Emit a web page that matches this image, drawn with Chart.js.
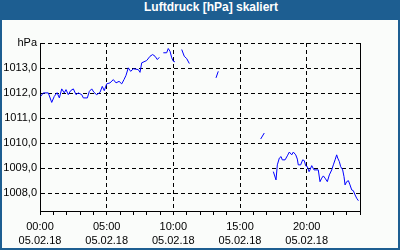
<!DOCTYPE html>
<html>
<head>
<meta charset="utf-8">
<script src="https://cdn.jsdelivr.net/npm/chart.js@4.4.0/dist/chart.umd.min.js"></script>
<style>
  body { margin: 0; background: #ffffff; }
  #frame { position: relative; width: 400px; height: 250px; background: #1d5e91; overflow: hidden; }
  #inner { position: absolute; left: 2px; top: 20px; width: 396px; height: 228px; background: #fafcfa; }
  #title {
    position: absolute; left: 0; top: 0; width: 400px; height: 20px; line-height: 20px;
    box-sizing: border-box; padding-left: 22px; text-align: center;
    color: #ffffff; font: bold 12px "Liberation Sans", Arial, sans-serif;
  }
  #chart { position: absolute; left: 0; top: 0; }
</style>
</head>
<body>
<div id="frame">
  <div id="inner"></div>
  <div id="title">Luftdruck [hPa] skaliert</div>
  <canvas id="chart" width="400" height="250"></canvas>
</div>
<script>
// hours since 05.02.18 00:00, null = no reading
const hours = [
  0.05, 0.25, 0.62, 0.88, 1.07, 1.28, 1.45, 1.63, 1.82, 1.95,
  2.12, 2.30, 2.50, 2.70, 2.87, 3.13, 3.25, 3.55, 3.70, 3.88,
  4.05, 4.25, 4.50, 4.67, 4.82, 5.00, 5.25, 5.50, 5.70, 5.93,
  6.13, 6.30, 6.45, 6.62, 6.80, 7.00, 7.37, 7.50, 7.63, 8.00,
  8.25, 8.45, 8.63, 8.80, 8.95, 9.10,
  9.25, 9.50, 9.62, 9.75, 9.88, 10.00, 10.12, 10.40,
  10.63, 10.82, 11.00, 11.20, 12.00,
  13.20, 13.37, 15.00,
  16.55, 16.82, 17.20,
  17.50, 17.70, 17.80, 17.95, 18.08, 18.17, 18.38, 18.55, 18.70, 18.88,
  19.00, 19.18, 19.30, 19.37, 19.55, 19.70, 19.82, 19.93, 20.05, 20.18,
  20.25, 20.38, 20.55, 20.87, 21.00, 21.13, 21.25, 21.38, 21.55, 21.70,
  21.88, 22.00, 22.13, 22.25, 22.33, 22.45, 22.55, 22.70, 22.80, 22.88,
  23.00, 23.13, 23.25, 23.38, 23.50, 23.63, 23.75, 23.88
];
const pressure = [
  1011.87, 1012.01, 1012.01, 1011.63, 1011.87, 1012.02, 1011.81, 1012.17, 1012.01, 1012.14,
  1011.94, 1012.10, 1012.17, 1011.94, 1012.01, 1011.94, 1011.81, 1011.81, 1012.07, 1012.17,
  1012.03, 1011.94, 1012.03, 1012.27, 1012.10, 1012.37, 1012.41, 1012.54, 1012.41, 1012.47,
  1012.37, 1012.54, 1012.71, 1013.01, 1012.87, 1012.97, 1012.94, 1012.83, 1013.21, 1013.30,
  1013.47, 1013.54, 1013.47, 1013.34, 1013.43, null,
  1013.61, 1013.61, 1013.78, 1013.67, 1013.41, 1013.27, 1013.25, null,
  1013.74, 1013.47, 1013.38, 1013.18, null,
  1012.61, 1012.87, null,
  1010.17, 1010.41, null,
  1008.87, 1008.54, 1009.14, 1009.41, 1009.47, 1009.34, 1009.34, 1009.50, 1009.65, 1009.54,
  1009.65, 1009.54, 1009.37, 1009.14, 1009.14, 1009.34, 1009.31, 1009.10, 1009.07, 1008.87,
  1008.94, 1009.11, 1008.94, 1008.94, 1008.47, 1008.61, 1008.70, 1008.61, 1008.47, 1008.74,
  1008.94, 1009.14, 1009.34, 1009.54, 1009.41, 1009.27, 1009.07, 1008.94, 1008.67, 1008.34,
  1008.47, 1008.51, 1008.34, 1008.14, 1008.11, 1007.94, 1007.81, 1007.71
];

const yTicks = [1008, 1009, 1010, 1011, 1012, 1013, 1014];
const yUnit = "hPa";
const xTickHours = [0, 5, 10, 15, 20];
const xTickTimes = ["00:00", "05:00", "10:00", "15:00", "20:00"];
const xTickDate = "05.02.18";

const fontSpec = { family: "'Liberation Sans', Arial, sans-serif", size: 11 };

new Chart(document.getElementById("chart"), {
  type: "line",
  data: {
    datasets: [
      {
        data: hours.map((h, i) => ({ x: h, y: pressure[i] })),
        borderColor: "#0000ff",
        borderWidth: 1,
        pointRadius: 0,
        tension: 0,
        spanGaps: false,
      },
    ],
  },
  options: {
    responsive: false,
    animation: false,
    devicePixelRatio: 1,
    layout: { padding: { top: 43, right: 0, left: 0, bottom: 0 } },
    plugins: { legend: { display: false }, tooltip: { enabled: false } },
    scales: {
      x: {
        type: "linear",
        min: 0,
        max: 24,
        afterFit: (scale) => { scale.height = 39; },
        ticks: {
          stepSize: 1,
          autoSkip: false,
          maxRotation: 0,
          padding: 5,
          color: "#000000",
          font: { ...fontSpec, lineHeight: 1.28 },
          callback: (v) => {
            const idx = xTickHours.indexOf(v);
            return idx >= 0 ? [xTickTimes[idx], xTickDate] : "";
          },
        },
        grid: {
          color: (ctx) => (ctx.tick && xTickHours.includes(ctx.tick.value) && ctx.tick.value > 0 ? "#000000" : "rgba(0,0,0,0)"),
          tickColor: "#000000",
          tickLength: 4,
          lineWidth: 1,
        },
        border: { display: true, color: "#000000", width: 1, dash: [4, 3] },
      },
      y: {
        min: 1007.3,
        max: 1014,
        afterFit: (scale) => { scale.width = 40; },
        afterBuildTicks: (scale) => { scale.ticks = yTicks.map((v) => ({ value: v })); },
        ticks: {
          padding: 3,
          color: "#000000",
          font: fontSpec,
          callback: (v) => (v === 1014 ? yUnit : v.toFixed(1).replace(".", ",")),
        },
        grid: { color: "#000000", drawTicks: false, lineWidth: 1 },
        border: { display: true, color: "#000000", width: 1, dash: [4, 3] },
      },
      y2: {
        position: "right",
        min: 1007.3,
        max: 1014,
        afterFit: (scale) => { scale.width = 40; },
        ticks: { display: false },
        grid: { display: false, drawOnChartArea: false },
        border: { display: true, color: "#000000", width: 1 },
      },
    },
  },
});
</script>
</body>
</html>
